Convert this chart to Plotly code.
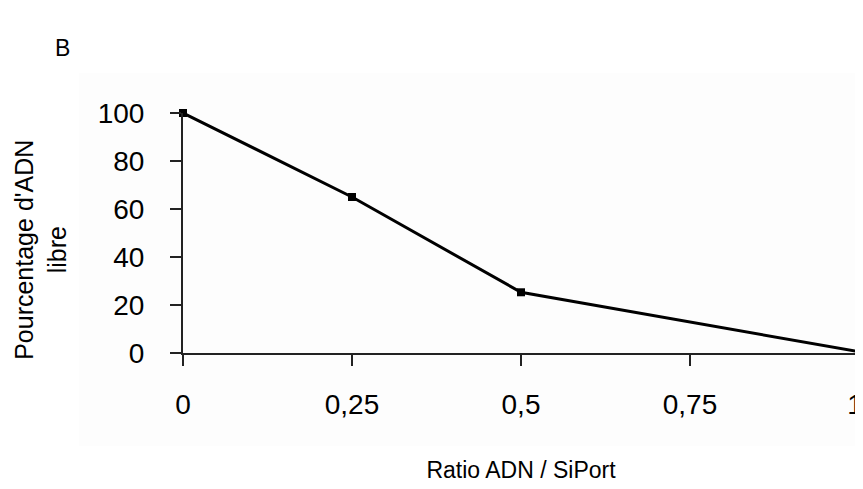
import plotly.graph_objects as go

ratio = [0, 0.25, 0.5, 1]
pct_free = [100, 65, 25.3, 0.5]
x_tickvals = [0, 0.25, 0.5, 0.75, 1]
x_ticktext = ["0", "0,25", "0,5", "0,75", "1\u00a0"]
y_tickvals = [0, 20, 40, 60, 80, 100]

FONT = "Liberation Sans, Arial, sans-serif"

# page body has an 8px margin; size figure so that plot area lands where the reference has it
fig = go.Figure()
fig.add_trace(go.Scatter(
    x=ratio, y=pct_free, mode="lines+markers",
    line=dict(color="black", width=3),
    marker=dict(symbol="square", size=8, color="black"),
    cliponaxis=False, showlegend=False,
))

fig.update_layout(
    width=855, height=481,
    margin=dict(l=175, r=4, t=105, b=136),
    paper_bgcolor="white", plot_bgcolor="rgba(0,0,0,0)",
    font=dict(family=FONT, color="black"),
    xaxis=dict(
        range=[0, 1], tickvals=x_tickvals, ticktext=x_ticktext, automargin=False,
        showgrid=False, zeroline=False, showline=True, linecolor="#222", linewidth=2,
        ticks="outside", ticklen=11, tickwidth=2, tickcolor="#222",
        tickfont=dict(size=28, family=FONT), ticklabelstandoff=14, ticklabeloverflow="allow",
        title=dict(text="Ratio ADN / SiPort", font=dict(size=23, family=FONT), standoff=43),
    ),
    yaxis=dict(
        range=[0, 100], tickvals=y_tickvals, automargin=False,
        showgrid=False, zeroline=False, showline=True, linecolor="#222", linewidth=2,
        ticks="outside", ticklen=11, tickwidth=2, tickcolor="#222",
        tickfont=dict(size=28, family=FONT), ticklabelstandoff=20,
    ),
    shapes=[dict(type="rect", xref="paper", yref="paper", x0=-0.154, x1=1.02, y0=-0.3875, y1=1.167,
                 fillcolor="#fdfdfd", line=dict(width=0), layer="below")],
    annotations=[
        dict(text="B", xref="paper", yref="paper", x=-0.178, y=1.27,
             showarrow=False, font=dict(size=23, family=FONT), xanchor="center", yanchor="middle"),
        dict(text="Pourcentage d'ADN<br>libre", xref="paper", yref="paper", x=-0.21, y=0.43,
             textangle=-90, showarrow=False, font=dict(size=25, family=FONT),
             xanchor="center", yanchor="middle"),
    ],
)

fig.write_html("out.html")
